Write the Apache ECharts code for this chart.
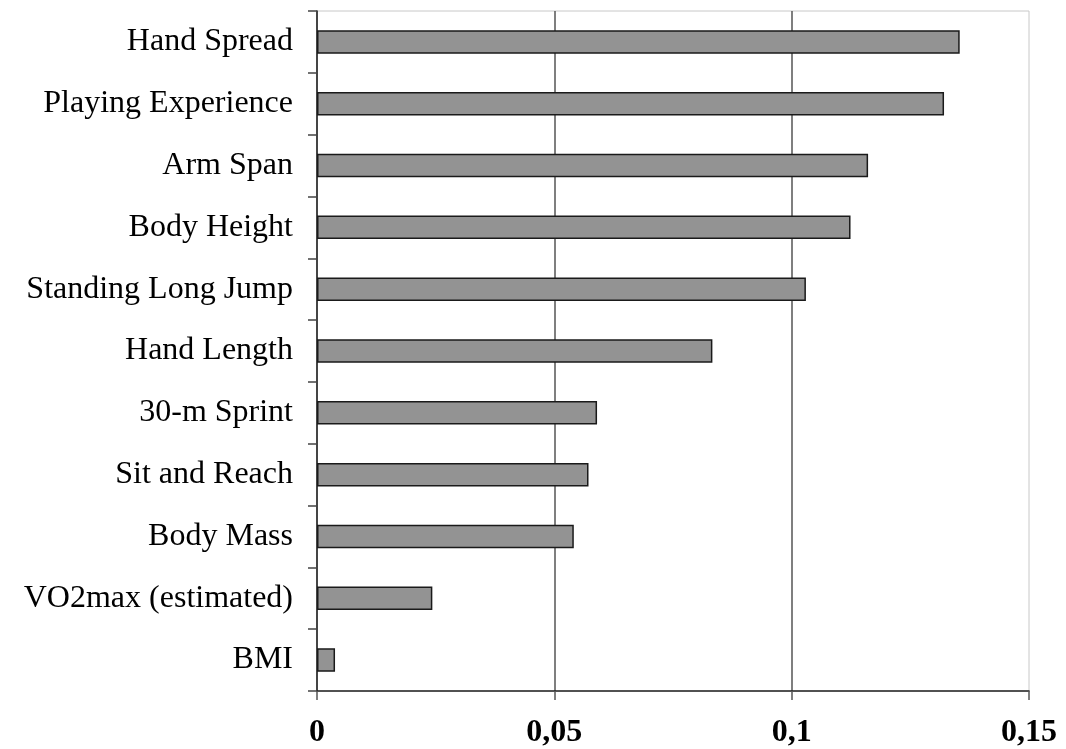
<!DOCTYPE html>
<html>
<head>
<meta charset="utf-8">
<script src="https://cdn.jsdelivr.net/npm/echarts@6/dist/echarts.min.js"></script>
<style>
html,body{margin:0;padding:0;background:#fff;}
#chart{width:1066px;height:749px;}
</style>
</head>
<body>
<div id="chart"></div>
<script>
const categories = ["Hand Spread","Playing Experience","Arm Span","Body Height","Standing Long Jump","Hand Length","30-m Sprint","Sit and Reach","Body Mass","VO2max (estimated)","BMI"];
const values = [0.1354,0.1321,0.1161,0.1124,0.1030,0.0833,0.0590,0.0572,0.0541,0.0243,0.0038];
const xTicks = [0,0.05,0.1,0.15];

const chart = echarts.init(document.getElementById('chart'), null, {renderer:'canvas'});
chart.setOption({
  animation:false,
  backgroundColor:'#ffffff',
  grid:{left:317,right:37,top:11,bottom:58,show:true,borderColor:'#c8c8c8',borderWidth:1,backgroundColor:'transparent'},
  xAxis:{
    type:'value',min:xTicks[0],max:xTicks[xTicks.length-1],interval:0.05,
    axisLine:{show:true,lineStyle:{color:'#222',width:1.5}},
    axisTick:{show:true,length:9,lineStyle:{color:'#555',width:1.5}},
    splitLine:{show:true,showMinLine:false,showMaxLine:false,lineStyle:{color:'#555',width:1.5}},
    axisLabel:{margin:26,fontFamily:'Liberation Serif',fontWeight:'bold',fontSize:32,color:'#000',
      formatter:v=>String(Math.round(v*100)/100).replace('.',',')}
  },
  yAxis:{
    type:'category',data:categories,inverse:true,
    axisLine:{show:true,lineStyle:{color:'#111',width:1.5}},
    axisTick:{show:true,length:9,lineStyle:{color:'#444',width:1.5}},
    axisLabel:{margin:24,fontFamily:'Liberation Serif',fontSize:32,color:'#000',padding:[3,0,0,0]}
  },
  series:[{
    type:'bar',data:values,barWidth:'38%',
    itemStyle:{color:'#939393',borderColor:'#1a1a1a',borderWidth:1.5}
  }]
});
</script>
</body>
</html>
